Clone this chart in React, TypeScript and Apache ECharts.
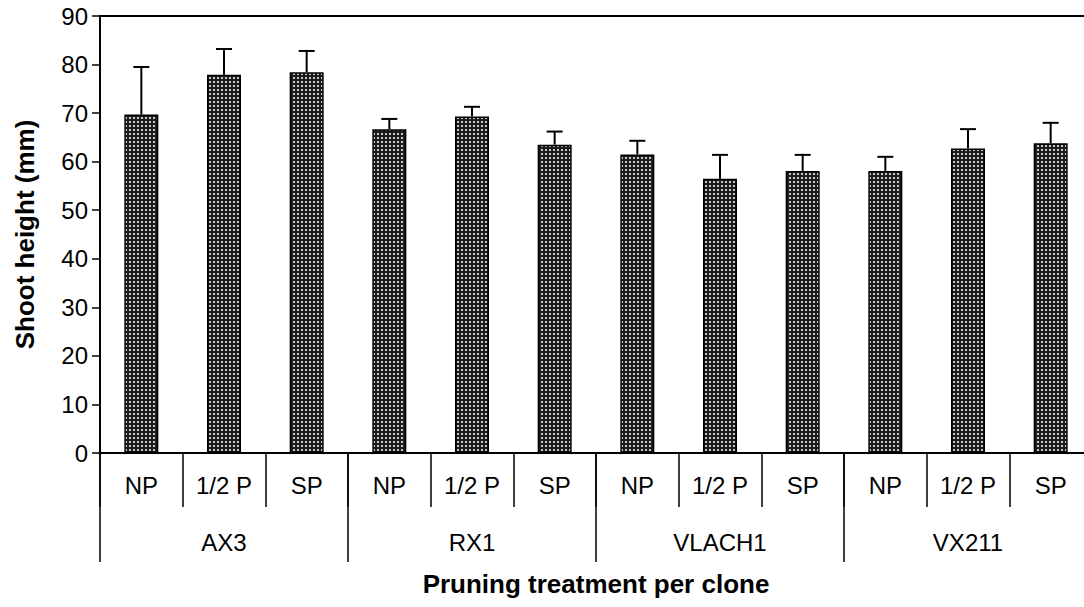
import React, { useEffect, useRef } from "react";
import * as echarts from "echarts";

const groups = ["AX3", "RX1", "VLACH1", "VX211"];
const treatments = ["NP", "1/2 P", "SP"];
const means = [69.7, 77.9, 78.4, 66.7, 69.3, 63.5, 61.5, 56.5, 58.1, 58.1, 62.7, 63.8];
const errors = [9.8, 5.3, 4.4, 2.1, 2.0, 2.7, 2.8, 4.9, 3.3, 2.9, 4.0, 4.2];
const yTicks = [0, 10, 20, 30, 40, 50, 60, 70, 80, 90];

const FONT = "'Liberation Sans', Arial, sans-serif";

function makePattern(): HTMLCanvasElement {
  const c = document.createElement("canvas");
  c.width = 4;
  c.height = 4;
  const ctx = c.getContext("2d")!;
  ctx.fillStyle = "#1c1c1c";
  ctx.fillRect(0, 0, 4, 4);
  ctx.fillStyle = "#c8c8c8";
  ctx.fillRect(1, 1, 2, 2);
  return c;
}

export default function App() {
  const ref = useRef<HTMLDivElement>(null);
  useEffect(() => {
    if (!ref.current) return;
    document.body.style.overflow = "hidden";
    const chart = echarts.init(ref.current, undefined, { renderer: "svg" });
    const cats: string[] = [];
    groups.forEach(() => treatments.forEach((t) => cats.push(t)));
    const pattern = makePattern();
    chart.setOption({
      animation: false,
      grid: {
        left: 100,
        top: 16,
        right: 8,
        bottom: 154,
        show: false,
      },
      xAxis: [
        {
          type: "category",
          data: cats,
          position: "bottom",
          axisLine: { show: true, lineStyle: { color: "#000", width: 2 } },
          axisTick: {
            show: true,
            alignWithLabel: false,
            interval: 0,
            length: 54,
            lineStyle: { color: "#000", width: 1.5 },
          },
          axisLabel: {
            interval: 0,
            color: "#000",
            fontFamily: FONT,
            fontSize: 24,
            margin: 20,
          },
        },
        {
          type: "category",
          data: groups,
          position: "bottom",
          offset: 0,
          axisLine: { show: false },
          axisTick: {
            show: true,
            alignWithLabel: false,
            interval: 0,
            length: 109,
            lineStyle: { color: "#000", width: 1.5 },
          },
          axisLabel: {
            interval: 0,
            color: "#000",
            fontFamily: FONT,
            fontSize: 24,
            margin: 77,
          },
          name: "Pruning treatment per clone",
          nameLocation: "middle",
          nameGap: 118,
          nameTextStyle: {
            color: "#000",
            fontFamily: FONT,
            fontSize: 26,
            fontWeight: "bold",
          },
        },
        {
          type: "category",
          data: groups,
          position: "top",
          axisLine: { show: true, lineStyle: { color: "#000", width: 2 } },
          axisTick: { show: false },
          axisLabel: { show: false },
        },
      ],
      yAxis: {
        type: "value",
        min: yTicks[0],
        max: yTicks[yTicks.length - 1],
        interval: 10,
        axisLine: { show: true, lineStyle: { color: "#000", width: 2 } },
        axisTick: { show: true, length: 8, lineStyle: { color: "#000", width: 1.5 } },
        axisLabel: { color: "#000", fontFamily: FONT, fontSize: 24, margin: 12 },
        splitLine: { show: false },
        name: "Shoot height (mm)",
        nameLocation: "middle",
        nameGap: 62,
        nameTextStyle: {
          color: "#000",
          fontFamily: FONT,
          fontSize: 26,
          fontWeight: "bold",
        },
      },
      series: [
        {
          type: "bar",
          xAxisIndex: 0,
          data: means,
          barWidth: 34,
          itemStyle: {
            color: { image: pattern, repeat: "repeat" },
            borderColor: "#000",
            borderWidth: 1.5,
          },
        },
        {
          type: "custom",
          xAxisIndex: 0,
          data: means.map((m, i) => [i, m, m + errors[i]]),
          z: 5,
          renderItem: (params: any, api: any) => {
            const x = api.value(0);
            const p0 = api.coord([x, api.value(1)]);
            const p1 = api.coord([x, api.value(2)]);
            const half = 8;
            const style = { stroke: "#000", lineWidth: 2 };
            return {
              type: "group",
              children: [
                { type: "line", shape: { x1: p0[0], y1: p0[1], x2: p1[0], y2: p1[1] }, style },
                { type: "line", shape: { x1: p1[0] - half, y1: p1[1], x2: p1[0] + half, y2: p1[1] }, style },
              ],
            };
          },
        },
      ],
    });
    return () => chart.dispose();
  }, []);
  return (
    <div
      ref={ref}
      style={{ position: "fixed", left: 0, top: 0, width: 1100, height: 607, background: "#fff" }}
    />
  );
}
